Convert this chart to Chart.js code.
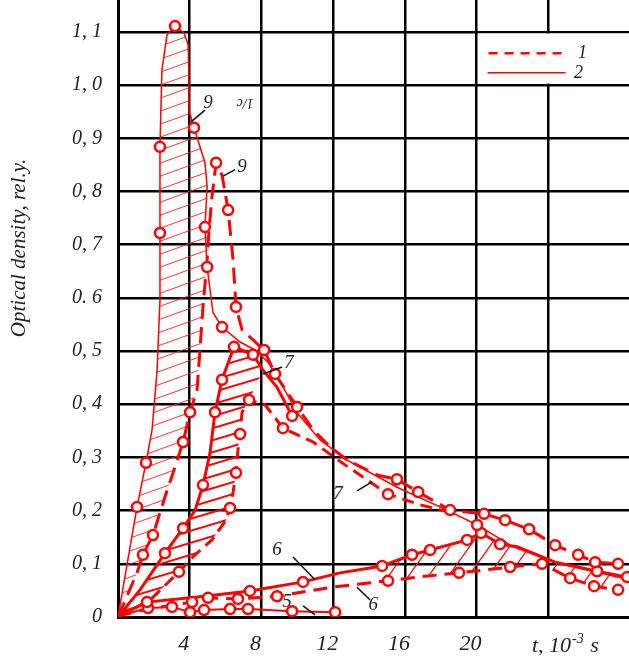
<!DOCTYPE html>
<html>
<head>
<meta charset="utf-8">
<script src="https://cdn.jsdelivr.net/npm/chart.js@4.4.1/dist/chart.umd.min.js"></script>
<style>
  html, body { margin: 0; padding: 0; background: #fff; }
  #wrap { width: 629px; height: 659px; }
</style>
</head>
<body>
<div id="wrap"><canvas id="chart"></canvas></div>
<script>
// t in 10^-3 s, optical density in rel. units
const xTickValues = [0, 4, 8, 12, 16, 20, 24];
const xTickLabels = ["", "4", "8", "12", "16", "20", ""];
const yTickValues = [0, 0.1, 0.2, 0.3, 0.4, 0.5, 0.6, 0.7, 0.8, 0.9, 1.0, 1.1];
const yTickLabels = ["0", "0, 1", "0, 2", "0, 3", "0, 4", "0, 5", "0. 6", "0, 7", "0, 8", "0, 9", "1, 0", "1, 1"];

// curve 9
const s9Line = [[0,0],[1.06,0.207],[1.56,0.290],[1.90,0.352],[2.18,0.464],[2.34,0.596],[2.34,0.722],[2.34,0.884],
  [2.45,1.028],[2.73,1.094],[3.18,1.111],[3.68,1.098],[3.91,1.076],[3.96,1.010],[3.96,0.953],[4.24,0.920],
  [4.85,0.854],[4.97,0.809],[4.85,0.733],[4.97,0.658],[5.30,0.572],[5.80,0.545],[6.81,0.517],[7.64,0.502],
  [8.37,0.479],[9.15,0.436],[9.99,0.384],[11.27,0.333],[12.78,0.295],[15.56,0.244],[18.35,0.201],[20.03,0.173],
  [22.04,0.132],[24.49,0.102],[28.5,0.070]];
const s9Marks = [[1.06,0.207],[1.56,0.290],[2.34,0.722],[2.34,0.884],[3.18,1.111],[4.24,0.920],[4.85,0.733],
  [4.97,0.658],[5.80,0.545],[20.03,0.173]];
const d9Line = [[0,0],[1.06,0.083],[1.39,0.117],[1.95,0.154],[2.62,0.226],[3.18,0.282],[3.63,0.329],[4.02,0.385],
  [4.41,0.427],[4.57,0.502],[4.74,0.583],[4.97,0.671],[5.08,0.728],[5.24,0.790],[5.47,0.854],[5.80,0.831],
  [6.14,0.765],[6.42,0.671],[6.58,0.583],[6.92,0.540],[7.53,0.521],[8.15,0.502],[8.76,0.457],[9.43,0.423],
  [9.99,0.395],[10.88,0.352],[11.83,0.320],[12.78,0.295],[14.45,0.267],[15.56,0.259],[16.74,0.235],[18.52,0.201],
  [20.42,0.194],[21.59,0.182],[22.93,0.165],[24.38,0.135],[25.66,0.117],[26.61,0.103],[27.89,0.100]];
const d9Marks = [[1.39,0.117],[1.95,0.154],[3.63,0.329],[4.02,0.385],[5.47,0.854],[6.14,0.765],[6.58,0.583],
  [8.15,0.502],[8.76,0.457],[9.99,0.395],[15.56,0.259],[16.74,0.235],[18.52,0.201],[20.42,0.194],[21.59,0.182],
  [22.93,0.165],[24.38,0.135],[25.66,0.117],[26.61,0.103],[27.89,0.100]];

// curve 7
const s7Line = [[0,0],[1.23,0.051],[2.62,0.120],[3.63,0.167],[4.30,0.201],[4.74,0.248],[5.13,0.308],[5.41,0.385],
  [5.80,0.446],[6.47,0.508],[7.53,0.493],[8.09,0.464],[8.87,0.432],[9.71,0.378]];
const s7Marks = [[2.62,0.120],[3.63,0.167],[4.74,0.248],[5.41,0.385],[5.80,0.446],[6.47,0.508],[7.53,0.493],[9.71,0.378]];
const d7Line = [[0,0],[1.79,0.032],[3.40,0.085],[4.30,0.117],[5.24,0.145],[6.02,0.182],[6.25,0.205],[6.42,0.235],
  [6.58,0.271],[6.69,0.314],[6.81,0.344],[6.92,0.385],[7.31,0.408],[8.20,0.399],[9.20,0.355],[10.88,0.329],
  [12.66,0.286],[15.06,0.231],[16.85,0.211],[18.52,0.197]];
const d7Marks = [[3.40,0.085],[6.25,0.205],[6.58,0.271],[6.81,0.344],[7.31,0.408],[9.20,0.355],[15.06,0.231]];

// curve 6
const s6Line = [[0,0.002],[1.62,0.028],[4.57,0.038],[7.36,0.049],[10.32,0.066],[12.39,0.083],[14.73,0.096],
  [16.40,0.117],[17.41,0.126],[19.47,0.145],[20.25,0.158],[21.31,0.137],[22.26,0.132],[24.38,0.103],
  [26.72,0.086],[28.40,0.075]];
const s6Marks = [[1.62,0.028],[7.36,0.049],[10.32,0.066],[14.73,0.096],[16.40,0.117],[17.41,0.126],[19.47,0.145],
  [20.25,0.158],[21.31,0.137],[26.72,0.086],[28.40,0.075]];
const d6Line = [[0,0.002],[1.67,0.015],[4.13,0.028],[5.02,0.036],[6.69,0.034],[8.87,0.039],[11.94,0.056],
  [15.06,0.068],[16.68,0.075],[19.02,0.083],[21.87,0.094],[23.65,0.100],[25.22,0.073],[26.55,0.058],[27.89,0.051]];
const d6Marks = [[4.13,0.028],[5.02,0.036],[6.69,0.034],[8.87,0.039],[15.06,0.068],[19.02,0.083],[21.87,0.094],
  [23.65,0.100],[25.22,0.073],[26.55,0.058],[27.89,0.051]];

// curve 5
const s5Line = [[0,0.002],[1.67,0.017],[3.01,0.019],[4.02,0.009],[4.80,0.013],[6.25,0.015],[7.25,0.015],[9.71,0.011],[12.11,0.009]];
const s5Marks = s5Line.slice(1);

const RED = "#ff0000";
const SERIF = "'Liberation Serif', 'Times New Roman', serif";

const canvas = document.getElementById("chart");
const ctx = canvas.getContext("2d");

const toXY = (pts) => pts.map(([x, y]) => ({ x, y }));

// diagonal hatching tile: lines rising left to right
function hatch(w, h, width, color) {
  const tile = document.createElement("canvas");
  tile.width = w;
  tile.height = h;
  const g = tile.getContext("2d");
  g.strokeStyle = color;
  g.lineWidth = width;
  for (const dy of [-h, 0, h]) {
    g.beginPath();
    g.moveTo(-w, 2 * h + dy);
    g.lineTo(2 * w, -h + dy);
    g.stroke();
  }
  return ctx.createPattern(tile, "repeat");
}

const lineSet = (pts, width, dash) => ({
  data: toXY(pts), borderColor: RED, borderWidth: width, borderDash: dash || [],
  pointRadius: 0, fill: false, tension: 0, order: 1,
});
const markSet = (pts) => ({
  data: toXY(pts), showLine: false, pointRadius: 5, pointBorderWidth: 2.5,
  pointBorderColor: RED, pointBackgroundColor: "#fff", order: 0,
});
const hatchSet = (pts, pattern) => ({
  data: toXY(pts), borderWidth: 0, borderColor: "transparent", pointRadius: 0,
  backgroundColor: pattern, fill: "shape", order: 2,
});

const hatch9 = s9Line.slice(0, 19).concat(d9Line.slice(0, 13).reverse());
const hatch7 = s7Line.slice(0, 12).concat(d7Line.slice(0, 13).reverse());
const hatch6 = s6Line.slice(6).concat(d6Line.slice(7).reverse());

const datasets = [
  hatchSet(hatch9, hatch(36, 13, 1, "rgba(255,30,30,0.9)")),
  hatchSet(hatch7, hatch(40, 12, 2, RED)),
  hatchSet(hatch6, hatch(20, 28, 1.3, RED)),
  lineSet(s9Line, 1.5),
  lineSet(d9Line, 3, [16, 8]),
  lineSet(s7Line, 3),
  lineSet(d7Line, 3, [12, 7]),
  lineSet(s6Line, 3),
  lineSet(d6Line, 3, [14, 8]),
  lineSet(s5Line, 2),
  markSet(s9Marks), markSet(d9Marks), markSet(s7Marks), markSet(d7Marks),
  markSet(s6Marks), markSet(d6Marks), markSet(s5Marks),
];

// curve numbers with leader lines, placed in data units
const notes = [
  { text: "9", at: [5.02, 0.967], from: [4.85, 0.953], to: [4.07, 0.931] },
  { text: "9", at: [6.92, 0.846], from: [6.53, 0.841], to: [5.86, 0.829] },
  { text: "7", at: [9.54, 0.478], from: [9.15, 0.470], to: [8.09, 0.457] },
  { text: "7", at: [12.27, 0.231], from: [13.33, 0.237], to: [14.17, 0.254] },
  { text: "6", at: [8.87, 0.126], from: [9.76, 0.113], to: [10.99, 0.070] },
  { text: "6", at: [14.23, 0.023], from: [13.33, 0.056], to: [14.06, 0.032] },
  { text: "5", at: [9.43, 0.028], from: [10.32, 0.021], to: [10.99, 0.004] },
];

const notesPlugin = {
  id: "notes",
  afterDatasetsDraw(chart) {
    const { ctx, chartArea, scales: { x, y } } = chart;
    const px = (t) => x.getPixelForValue(t);
    const py = (v) => y.getPixelForValue(v);
    ctx.save();

    // legend in the top right cell
    const L = px(20), T = py(1.1), B = py(1.0), R = chartArea.right;
    ctx.fillStyle = "#fff";
    ctx.fillRect(L + 1.5, T + 1.5, R - L - 1.5, B - T - 3);
    ctx.strokeStyle = RED;
    ctx.lineWidth = 2.5;
    ctx.setLineDash([9, 7]);
    ctx.beginPath();
    ctx.moveTo(L + 12, T + 0.4 * (B - T));
    ctx.lineTo(L + 86, T + 0.4 * (B - T));
    ctx.stroke();
    ctx.setLineDash([]);
    ctx.lineWidth = 1.5;
    ctx.beginPath();
    ctx.moveTo(L + 11, T + 0.77 * (B - T));
    ctx.lineTo(L + 89, T + 0.77 * (B - T));
    ctx.stroke();
    ctx.fillStyle = "#222";
    ctx.font = "italic 18px " + SERIF;
    ctx.textAlign = "center";
    ctx.textBaseline = "middle";
    ctx.fillText("1", L + 106, T + 0.4 * (B - T));
    ctx.fillText("2", L + 102, T + 0.77 * (B - T));

    // curve labels
    ctx.strokeStyle = "#111";
    ctx.lineWidth = 1.5;
    ctx.font = "italic 19px " + SERIF;
    for (const n of notes) {
      ctx.beginPath();
      ctx.moveTo(px(n.from[0]), py(n.from[1]));
      ctx.lineTo(px(n.to[0]), py(n.to[1]));
      ctx.stroke();
      ctx.fillText(n.text, px(n.at[0]), py(n.at[1]));
    }

    // small upside-down mark next to the first "9"
    ctx.save();
    ctx.translate(px(7.09), py(0.967));
    ctx.rotate(Math.PI);
    ctx.font = "italic 14px " + SERIF;
    ctx.fillText("1/c", 0, 0);
    ctx.restore();

    // axis titles
    ctx.save();
    ctx.translate(19, 248);
    ctx.rotate(-Math.PI / 2);
    ctx.font = "italic 21px " + SERIF;
    ctx.fillText("Optical density, rel.y.", 0, 0);
    ctx.restore();

    ctx.textAlign = "left";
    ctx.textBaseline = "alphabetic";
    ctx.font = "italic 22px " + SERIF;
    let cx = 532;
    const base = 652;
    ctx.fillText("t, 10", cx, base);
    cx += ctx.measureText("t, 10").width;
    ctx.font = "italic 14px " + SERIF;
    ctx.fillText("-3", cx + 1, base - 9);
    cx += ctx.measureText("-3").width + 2;
    ctx.font = "italic 22px " + SERIF;
    ctx.fillText(" s", cx, base);

    ctx.restore();
  },
};

const tickFont = { family: SERIF, size: 20, style: "italic" };

new Chart(ctx, {
  type: "line",
  data: { datasets },
  options: {
    responsive: true,
    maintainAspectRatio: false,
    animation: false,
    events: [],
    layout: { padding: 0, autoPadding: false },
    plugins: { legend: { display: false }, tooltip: { enabled: false } },
    scales: {
      x: {
        type: "linear",
        min: 0,
        max: 28.5,
        afterBuildTicks: (s) => { s.ticks = xTickValues.map((v) => ({ value: v })); },
        afterFit: (s) => { s.height = 42; s.paddingLeft = 0; s.paddingRight = 0; },
        ticks: {
          autoSkip: false,
          maxRotation: 0,
          labelOffset: -6,
          padding: 14,
          color: "#222",
          font: { family: SERIF, size: 22, style: "italic" },
          callback: (v, i) => xTickLabels[i],
        },
        grid: { color: "#000", lineWidth: 2.5, drawTicks: false },
        border: { color: "#000", width: 3 },
      },
      y: {
        min: 0,
        max: 1.16,
        afterBuildTicks: (s) => { s.ticks = yTickValues.map((v) => ({ value: v })); },
        afterFit: (s) => { s.width = 118; s.paddingTop = 0; s.paddingBottom = 0; },
        ticks: {
          autoSkip: false,
          padding: 16,
          color: "#222",
          font: tickFont,
          callback: (v, i) => yTickLabels[i],
        },
        grid: { color: "#000", lineWidth: 2.5, drawTicks: false },
        border: { color: "#000", width: 3 },
      },
    },
  },
  plugins: [notesPlugin],
});
</script>
</body>
</html>
